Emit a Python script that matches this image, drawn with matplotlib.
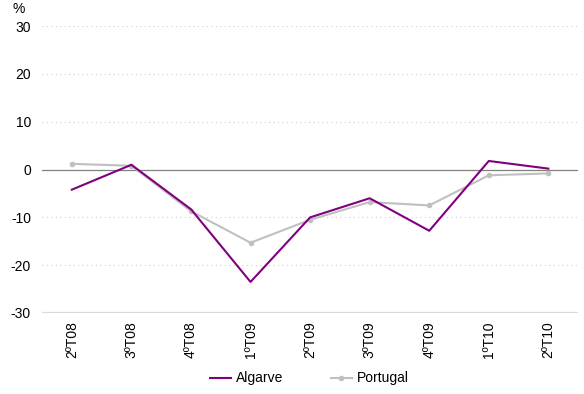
import matplotlib.pyplot as plt

plt.rcParams['font.family'] = ['Liberation Sans', 'DejaVu Sans']
plt.rcParams['axes.unicode_minus'] = False

# Data
quarters = ["2ºT08", "3ºT08", "4ºT08", "1ºT09", "2ºT09", "3ºT09", "4ºT09", "1ºT10", "2ºT10"]
algarve = [-4.2, 1.0, -8.3, -23.5, -10.0, -6.0, -12.8, 1.8, 0.2]
portugal = [1.2, 0.8, -8.7, -15.3, -10.5, -6.8, -7.5, -1.2, -0.8]
y_ticks = [-30, -20, -10, 0, 10, 20, 30]

fig = plt.figure(figsize=(5.84, 3.94), dpi=100)
ax = fig.add_axes([0.072, 0.2056, 0.918, 0.728])

x = list(range(len(quarters)))

# Grid lines
for t in y_ticks:
    if t == 0:
        ax.axhline(t, color="#808080", linewidth=0.9, zorder=1)
    elif t == -30:
        ax.axhline(t, color="#d9d9d9", linewidth=1.6, zorder=1)
    else:
        ax.axhline(t, color="#d0d0d0", linewidth=0.8, linestyle=(0, (1, 3)), zorder=1)

ax.plot(x, algarve, color="#800080", linewidth=1.5, label="Algarve", zorder=3)
ax.plot(x, portugal, color="#c0c0c0", linewidth=1.5, marker="o", markersize=3,
        label="Portugal", zorder=2)

ax.set_xlim(-0.5, len(quarters) - 0.5)
ax.set_ylim(-30, 30)
ax.set_yticks(y_ticks)
ax.set_xticks(x)
ax.set_xticklabels(quarters, rotation=90)
ax.tick_params(axis="both", length=0, labelsize=10, colors="#000000")
ax.tick_params(axis="y", pad=8)
ax.tick_params(axis="x", pad=6)

for s in ax.spines.values():
    s.set_visible(False)

fig.text(0.022, 0.978, "%", fontsize=10, ha="left", va="center")

fig.legend(loc="lower center", bbox_to_anchor=(0.53, -0.01), ncol=2, frameon=False,
           fontsize=10, handlelength=1.5, handletextpad=0.4, columnspacing=3.4)

plt.savefig("out.png", dpi=100)
